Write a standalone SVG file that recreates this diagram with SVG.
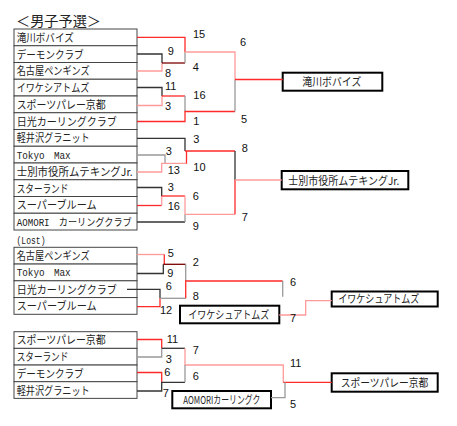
<svg xmlns="http://www.w3.org/2000/svg" width="457" height="426" viewBox="0 0 457 426">
<style>
.t{font-family:"Noto Sans CJK JP","Noto Sans",sans-serif;font-size:11px;fill:#222}
.mono{font-family:"Liberation Mono","Noto Sans CJK JP",monospace;font-size:10px;fill:#222}
.n{font-family:"Liberation Sans",Arial,sans-serif;font-size:11px;fill:#111}
.cell{fill:#fff;stroke:#444;stroke-width:1}
.win{fill:#fff;stroke:#000;stroke-width:2}
#connectors path{fill:none;stroke-width:1.3}
.r{stroke:#ff2a2a}
.p{stroke:#ff9a9a}
.k{stroke:#333}
.g{stroke:#999}
.m{stroke:#7a0000}
</style>
<rect width="457" height="426" fill="#fff"/>
<text class="t" x="16" y="26" font-size="14" style="font-size:14px" textLength="85" lengthAdjust="spacingAndGlyphs">＜男子予選＞</text>
<text class="mono" x="16.5" y="243.5" textLength="29" lengthAdjust="spacingAndGlyphs">(Lost)</text>

<g id="teams-a">
<g id="a1"><rect class="cell" x="14" y="29" width="123" height="16.75"/><text class="t" x="16.7" y="41.8" textLength="57" lengthAdjust="spacingAndGlyphs">滝川ボバイズ</text></g>
<g id="a2"><rect class="cell" x="14" y="45.75" width="123" height="16.75"/><text class="t" x="16.7" y="58.5" textLength="67" lengthAdjust="spacingAndGlyphs">デーモンクラブ</text></g>
<g id="a3"><rect class="cell" x="14" y="62.5" width="123" height="16.75"/><text class="t" x="16.7" y="75.3" textLength="73" lengthAdjust="spacingAndGlyphs">名古屋ペンギンズ</text></g>
<g id="a4"><rect class="cell" x="14" y="79.25" width="123" height="16.75"/><text class="t" x="16.7" y="92" textLength="72.6" lengthAdjust="spacingAndGlyphs">イワケシアトムズ</text></g>
<g id="a5"><rect class="cell" x="14" y="96" width="123" height="16.75"/><text class="t" x="16.7" y="108.8" textLength="89" lengthAdjust="spacingAndGlyphs">スポーツパレー京都</text></g>
<g id="a6"><rect class="cell" x="14" y="112.75" width="123" height="16.75"/><text class="t" x="16.7" y="125.5" textLength="100" lengthAdjust="spacingAndGlyphs">日光カーリングクラブ</text></g>
<g id="a7"><rect class="cell" x="14" y="129.5" width="123" height="16.75"/><text class="t" x="16.7" y="142.3" textLength="73" lengthAdjust="spacingAndGlyphs">軽井沢グラニット</text></g>
<g id="a8"><rect class="cell" x="14" y="146.25" width="123" height="16.75"/><text class="mono" x="16.7" y="158.5" textLength="54" lengthAdjust="spacingAndGlyphs">Tokyo　Max</text></g>
<g id="a9"><rect class="cell" x="14" y="163" width="123" height="16.75"/><text class="t" x="16.7" y="175.8" textLength="116" lengthAdjust="spacingAndGlyphs">士別市役所ムテキングJr.</text></g>
<g id="a10"><rect class="cell" x="14" y="179.75" width="123" height="16.75"/><text class="t" x="16.7" y="192.5" textLength="51.6" lengthAdjust="spacingAndGlyphs">スターランド</text></g>
<g id="a11"><rect class="cell" x="14" y="196.5" width="123" height="16.75"/><text class="t" x="16.7" y="209.3" textLength="80" lengthAdjust="spacingAndGlyphs">スーパーブルーム</text></g>
<g id="a12"><rect class="cell" x="14" y="213.25" width="123" height="16.75"/><text class="mono" x="16.7" y="225.5" textLength="115" lengthAdjust="spacingAndGlyphs">AOMORI　カーリングクラブ</text></g>
</g>

<g id="teams-lost">
<g id="l1"><rect class="cell" x="14" y="247.3" width="123" height="16.75"/><text class="t" x="16.7" y="260.1" textLength="73" lengthAdjust="spacingAndGlyphs">名古屋ペンギンズ</text></g>
<g id="l2"><rect class="cell" x="14" y="264.05" width="123" height="16.75"/><text class="mono" x="16.7" y="276.3" textLength="54" lengthAdjust="spacingAndGlyphs">Tokyo　Max</text></g>
<g id="l3"><rect class="cell" x="14" y="280.8" width="123" height="16.75"/><text class="t" x="16.7" y="293.6" textLength="100" lengthAdjust="spacingAndGlyphs">日光カーリングクラブ</text></g>
<g id="l4"><rect class="cell" x="14" y="297.55" width="123" height="16.75"/><text class="t" x="16.7" y="310.3" textLength="80" lengthAdjust="spacingAndGlyphs">スーパーブルーム</text></g>
</g>

<g id="teams-b">
<g id="b1"><rect class="cell" x="14" y="331.7" width="123" height="16.67"/><text class="t" x="16.7" y="344.4" textLength="89" lengthAdjust="spacingAndGlyphs">スポーツパレー京都</text></g>
<g id="b2"><rect class="cell" x="14" y="348.37" width="123" height="16.67"/><text class="t" x="16.7" y="361.1" textLength="51.6" lengthAdjust="spacingAndGlyphs">スターランド</text></g>
<g id="b3"><rect class="cell" x="14" y="365.04" width="123" height="16.67"/><text class="t" x="16.7" y="377.8" textLength="67" lengthAdjust="spacingAndGlyphs">デーモンクラブ</text></g>
<g id="b4"><rect class="cell" x="14" y="381.71" width="123" height="16.67"/><text class="t" x="16.7" y="394.5" textLength="73" lengthAdjust="spacingAndGlyphs">軽井沢グラニット</text></g>
</g>

<g id="winners">
<g id="w1"><rect class="win" x="282.7" y="72.7" width="99.6" height="18"/><text class="t" x="302.3" y="86" textLength="59" lengthAdjust="spacingAndGlyphs">滝川ボバイズ</text></g>
<g id="w2"><rect class="win" x="281.7" y="171" width="126.6" height="18.3"/><text class="t" x="288.3" y="184.5" textLength="111" lengthAdjust="spacingAndGlyphs">士別市役所ムテキングJr.</text></g>
<g id="w3"><rect class="win" x="180" y="305.7" width="99.3" height="17.6"/><text class="t" x="188.3" y="318.8" textLength="81" lengthAdjust="spacingAndGlyphs">イワケシュアトムズ</text></g>
<g id="w4"><rect class="win" x="331.7" y="291.5" width="106" height="15"/><text class="t" x="338.3" y="303" textLength="81" lengthAdjust="spacingAndGlyphs">イワケシュアトムズ</text></g>
<g id="w5"><rect class="win" x="172.3" y="391" width="98.7" height="17.3"/><text class="t" x="183.3" y="403.8" textLength="77" lengthAdjust="spacingAndGlyphs">AOMORIカーリングク</text></g>
<g id="w6"><rect class="win" x="331.7" y="373.3" width="106" height="18.4"/><text class="t" x="340.7" y="386.8" textLength="87.7" lengthAdjust="spacingAndGlyphs">スポーツパレー京都</text></g>
</g>

<g id="connectors">
<path class="r" d="M137 37.4H185V52"/>
<path class="k" d="M137 54H162V63"/>
<path class="p" d="M137 71H162V63"/>
<path class="m" d="M162 63H185"/>
<path class="g" d="M185 52V63"/>
<path class="p" d="M185 52H235V79.5"/>
<path class="k" d="M137 87.5H162V96"/>
<path class="p" d="M137 105.5H162V96"/>
<path class="r" d="M162 96H185"/>
<path class="g" d="M185 96V111.5"/>
<path class="r" d="M137 121.5H185V111.5H235"/>
<path class="g" d="M235 79.5V111.5"/>
<path class="r" d="M235 79.5H282.7"/>

<path class="k" d="M137 138.3H185V151"/>
<path class="r" d="M185 151H235"/>
<path class="r" d="M186.5 151V164"/>
<path class="g" d="M137 155H165V163.3"/>
<path class="p" d="M137 172H161.7V163.3H186.5"/>
<path class="k" d="M137 187.5H161.7V196"/>
<path class="r" d="M137 205.5H161.7"/>
<path class="p" d="M161.7 205.5V196"/>
<path class="r" d="M161.7 196H185"/>
<path class="p" d="M185 196V214.3"/>
<path class="k" d="M137 222H185"/>
<path class="g" d="M185 222V214.3"/>
<path class="p" d="M185 214.3H235"/>
<path class="k" d="M235 151V180"/>
<path class="r" d="M235 180V214.3"/>
<path class="p" d="M235 180H281.7"/>

<path class="p" d="M137 254.5H164.3"/>
<path class="r" d="M164.3 254.5V264.3"/>
<path class="k" d="M137 273.5H163.3V264.3"/>
<path class="m" d="M163.3 264.3H185.7"/>
<path class="g" d="M185.7 264.3V281"/>
<path class="k" d="M127 289.3H160V298.3"/>
<path class="r" d="M137 306.7H160V298.3"/>
<path class="g" d="M160 298.3H185.7"/>
<path class="r" d="M185.7 298.3V281H282.7"/>
<path class="g" d="M282.7 281V296.7"/>
<path class="p" d="M279.3 315H305.7V300.7H331.7"/>

<path class="r" d="M137 339.5H161.7V348.3"/>
<path class="g" d="M137 357H161.7V348.3"/>
<path class="k" d="M161.7 348.3H185"/>
<path class="p" d="M185 348.3V365H283.3V382.3"/>
<path class="r" d="M137 372.5H161.7V382.3"/>
<path class="k" d="M137 391H161.7V382.3H185"/>
<path class="g" d="M185 382.3V365"/>
<path class="r" d="M283.3 382.3H331.7"/>
<path class="g" d="M271 397.7H285V382.3"/>
</g>

<g id="scores">
<text class="n" x="193" y="38">15</text>
<text class="n" x="167.7" y="55">9</text>
<text class="n" x="165" y="76.5">8</text>
<text class="n" x="192.7" y="71">4</text>
<text class="n" x="165" y="90">11</text>
<text class="n" x="165" y="110">3</text>
<text class="n" x="193.3" y="99">16</text>
<text class="n" x="193.3" y="125">1</text>
<text class="n" x="240" y="46">6</text>
<text class="n" x="241" y="123">5</text>

<text class="n" x="193.3" y="143">3</text>
<text class="n" x="165.7" y="155">3</text>
<text class="n" x="167.7" y="174">13</text>
<text class="n" x="193.3" y="171">10</text>
<text class="n" x="241.7" y="152">8</text>
<text class="n" x="167.7" y="190.5">3</text>
<text class="n" x="167.7" y="210">16</text>
<text class="n" x="192.7" y="200">6</text>
<text class="n" x="192.7" y="230">9</text>
<text class="n" x="241.7" y="221">7</text>

<text class="n" x="167.7" y="256.5">5</text>
<text class="n" x="192.7" y="266">2</text>
<text class="n" x="167.3" y="277">9</text>
<text class="n" x="165.7" y="290">6</text>
<text class="n" x="192.7" y="300">8</text>
<text class="n" x="160" y="314">12</text>
<text class="n" x="290" y="286">6</text>
<text class="n" x="290" y="321.5">7</text>

<text class="n" x="166.7" y="342.5">11</text>
<text class="n" x="192.7" y="354">7</text>
<text class="n" x="165.7" y="363">3</text>
<text class="n" x="164.3" y="376">6</text>
<text class="n" x="192.7" y="380">6</text>
<text class="n" x="162.7" y="396.5">7</text>
<text class="n" x="290" y="366.5">11</text>
<text class="n" x="290" y="408">5</text>
</g>
</svg>
